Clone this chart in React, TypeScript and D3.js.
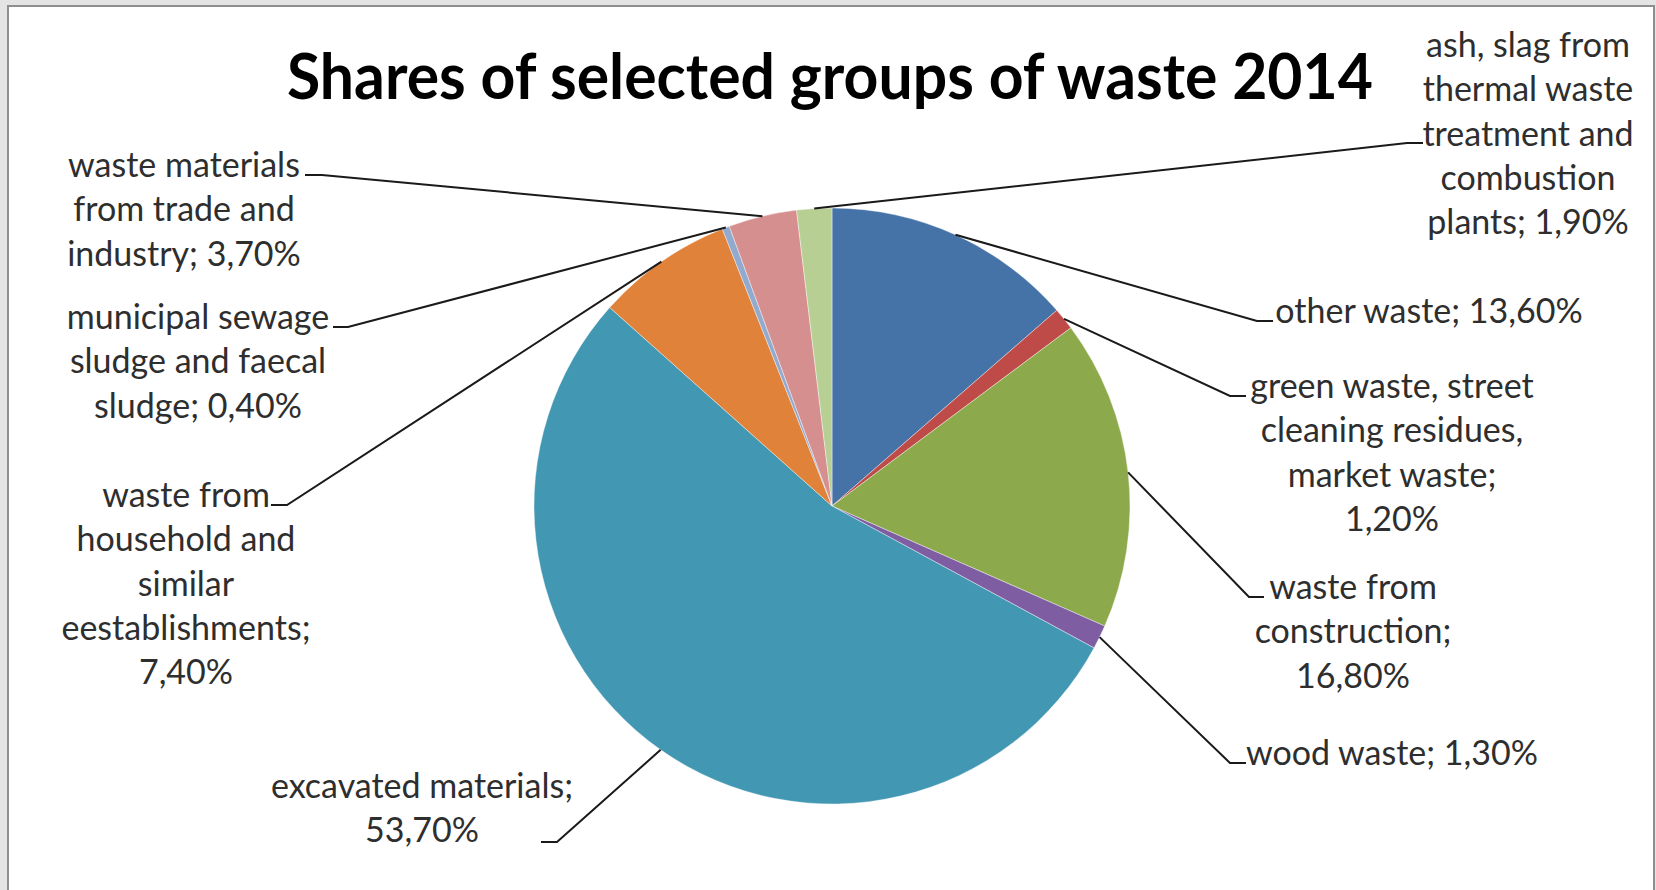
import React from "react";
import * as d3 from "d3";

const title = "Shares of selected groups of waste 2014";

const categories = [
  "other waste",
  "green waste, street cleaning residues, market waste",
  "waste from construction",
  "wood waste",
  "excavated materials",
  "waste from household and similar eestablishments",
  "municipal sewage sludge and faecal sludge",
  "waste materials from trade and industry",
  "ash, slag from thermal waste treatment and combustion plants",
];

const values = [13.6, 1.2, 16.8, 1.3, 53.7, 7.4, 0.4, 3.7, 1.9];

// wrapped label lines, {p} = formatted percentage
const labelLines = [
  ["other waste; {p}"],
  ["green waste, street", "cleaning residues,", "market waste;", "{p}"],
  ["waste from", "construction;", "{p}"],
  ["wood waste; {p}"],
  ["excavated materials;", "{p}"],
  ["waste from", "household and", "similar", "eestablishments;", "{p}"],
  ["municipal sewage", "sludge and faecal", "sludge; {p}"],
  ["waste materials", "from trade and", "industry; {p}"],
  ["ash, slag from", "thermal waste", "treatment and", "combustion", "plants; {p}"],
];

const colors = [
  "#4572A7",
  "#BE4B48",
  "#8CAA4C",
  "#7F5DA2",
  "#4297B3",
  "#E0823A",
  "#93AACF",
  "#D68F8F",
  "#B8CF94",
];

// label layout: text block centre x, first baseline y, leader stub (x1 -> x2 at y)
const labelLayout = [
  { cx: 1429, y: 323, sx1: 1257, sx2: 1273, sy: 321 },
  { cx: 1392, y: 398, sx1: 1230, sx2: 1246, sy: 396 },
  { cx: 1353, y: 599, sx1: 1249, sx2: 1264, sy: 597 },
  { cx: 1392, y: 765, sx1: 1230, sx2: 1246, sy: 763 },
  { cx: 422, y: 798, sx1: 557, sx2: 541, sy: 842 },
  { cx: 186, y: 507, sx1: 287, sx2: 271, sy: 505 },
  { cx: 198, y: 329, sx1: 348, sx2: 333, sy: 327 },
  { cx: 184, y: 177, sx1: 322, sx2: 305, sy: 175 },
  { cx: 1528, y: 57, sx1: 1407, sx2: 1423, sy: 143 },
];

const W = 1656;
const H = 890;
const CX = 832;
const CY = 506;
const R = 298;
const LINE_H = 44.3;

const fmt = (v: number) => d3.format(".2f")(v).replace(".", ",") + "%";

export default function App() {
  const pie = d3
    .pie<number>()
    .sort(null)
    .value((d) => d)
    .startAngle(0)
    .endAngle(2 * Math.PI);
  const arcs = pie(values);
  const arc = d3.arc<d3.PieArcDatum<number>>().innerRadius(0).outerRadius(R);
  const edge = d3.arc<d3.PieArcDatum<number>>().innerRadius(R).outerRadius(R);

  return (
    <svg
      width={W}
      height={H}
      style={{ position: "absolute", left: 0, top: 0, background: "#e4e4e4" }}
    >
      <rect x={8} y={6} width={1646} height={888} fill="#ffffff" stroke="#8e8e8e" strokeWidth={2} />
      <text
        x={830}
        y={99}
        textAnchor="middle"
        fontFamily="Lato, 'Open Sans', sans-serif"
        fontWeight="bold"
        fontSize={64}
        textLength={1086}
        lengthAdjust="spacingAndGlyphs"
        fill="#000"
      >
        {title}
      </text>
      <g transform={`translate(${CX},${CY})`}>
        {arcs.map((a, i) => (
          <path key={categories[i]} d={arc(a) || ""} fill={colors[i]} stroke="#ffffff" strokeWidth={0.4} />
        ))}
      </g>
      {arcs.map((a, i) => {
        const [px, py] = edge.centroid(a);
        const L = labelLayout[i];
        const pts = [
          [CX + px, CY + py],
          [L.sx1, L.sy],
          [L.sx2, L.sy],
        ];
        return (
          <polyline
            key={"l" + i}
            points={pts.map((p) => p.join(",")).join(" ")}
            fill="none"
            stroke="#1a1a1a"
            strokeWidth={2}
          />
        );
      })}
      {labelLines.map((lines, i) => {
        const L = labelLayout[i];
        return (
          <text
            key={"t" + i}
            textAnchor="middle"
            fontFamily="Lato, 'Open Sans', sans-serif"
            fontSize={34}
            fill="#2e2e2e"
          >
            {lines.map((ln, j) => (
              <tspan key={j} x={L.cx} y={L.y + j * LINE_H}>
                {ln.replace("{p}", fmt(values[i]))}
              </tspan>
            ))}
          </text>
        );
      })}
    </svg>
  );
}
